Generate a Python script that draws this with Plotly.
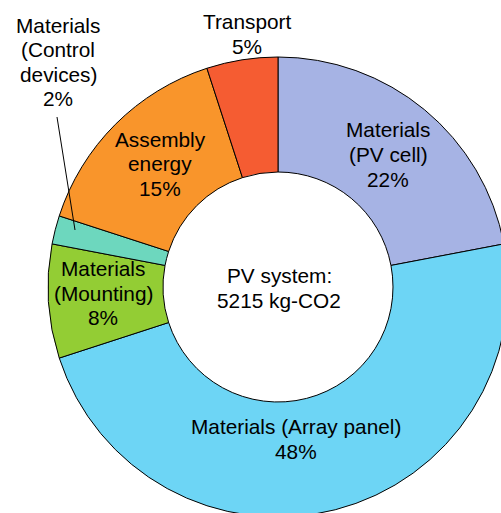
import plotly.graph_objects as go

categories = ["Materials (PV cell)", "Materials (Array panel)", "Materials (Mounting)",
              "Materials (Control devices)", "Assembly energy", "Transport"]
values = [22, 48, 8, 2, 15, 5]
colors = ["#A6B3E4", "#6DD5F5", "#93CD34", "#6DD7BE", "#F9952B", "#F55C32"]
label_lines = [["Materials", "(PV cell)", "22%"],
               ["Materials (Array panel)", "48%"],
               ["Materials", "(Mounting)", "8%"],
               ["Materials", "(Control", "devices)", "2%"],
               ["Assembly", "energy", "15%"],
               ["Transport", "5%"]]
center_lines = ["PV system:", "5215 kg-CO2"]

W, H = 520, 530
FONT = "Liberation Sans, Arial, Helvetica, sans-serif"
FS = 20.8
LS = 24.5  # line spacing in px

def px(x):
    return x / W

def py(y):
    return 1 - y / H

cx, cy, R = 278, 287, 230

fig = go.Figure(go.Pie(
    labels=categories, values=values, sort=False, direction="clockwise", rotation=0,
    hole=0.5, textinfo="none", hoverinfo="label+percent",
    marker=dict(colors=colors, line=dict(color="black", width=1)),
    domain=dict(x=[px(cx - R), px(cx + R)], y=[py(cy + R), py(cy - R)]),
    showlegend=False,
))

def add_block(lines, lx, ly):
    n = len(lines)
    for i, t in enumerate(lines):
        yy = ly + (i - (n - 1) / 2) * LS
        fig.add_annotation(x=px(lx), y=py(yy), xref="paper", yref="paper", text=t,
                           showarrow=False, font=dict(family=FONT, size=FS, color="black"),
                           xanchor="center", yanchor="middle", align="center")

# label positions (pixel centres)
label_pos = [(388, 154.5), (296, 439), (103, 293), (58, 62), (160, 164), (247, 34)]
for lines, (lx, ly) in zip(label_lines, label_pos):
    add_block(lines, lx, ly)

add_block(center_lines, 279, 288)

# leader line for the control devices label
fig.add_shape(type="line", xref="paper", yref="paper",
              x0=px(57), y0=py(117), x1=px(75), y1=py(230),
              line=dict(color="black", width=1))

fig.update_layout(width=W, height=H, margin=dict(l=0, r=0, t=0, b=0),
                  paper_bgcolor="white", plot_bgcolor="white")

fig.write_html("out.html", config={"displayModeBar": False}, post_script=(
    "document.body.style.margin='0';document.body.style.overflow='hidden';"
    "document.documentElement.style.overflow='hidden';"))
